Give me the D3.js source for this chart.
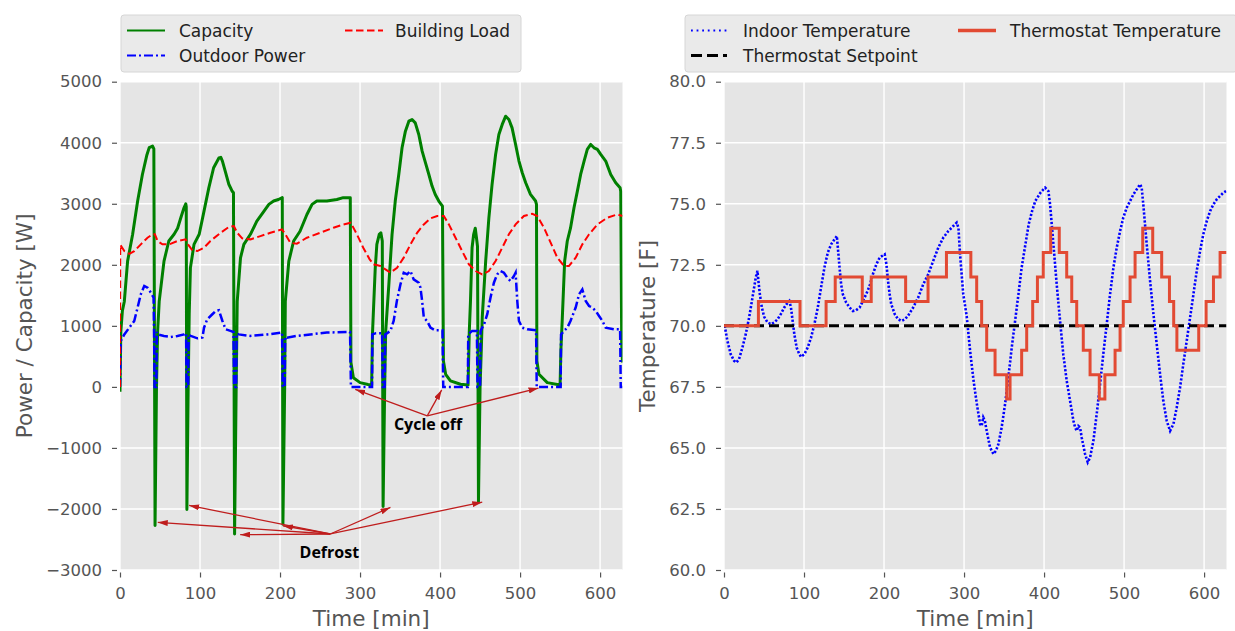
<!DOCTYPE html>
<html>
<head>
<meta charset="utf-8">
<script src="https://cdn.jsdelivr.net/npm/d3@7"></script>
<style>
  body { margin: 0; background: #fff; }
  svg text { font-family: "DejaVu Sans", sans-serif; }
</style>
</head>
<body>
<div id="main"></div>
<script>

/// Data (time in min) ///

// left panel: [time, watts]
const capacity = [[0,-80],[1,900],[3,1250],[5.4,1400],[9.5,2060],[15.8,2500],[22,3040],[28,3480],[33.6,3800],[36.5,3920],[40.7,3945],[42.3,3900],[43.8,-2270],[45.6,0],[47,900],[49,1400],[55,2060],[61,2390],[67.6,2500],[72,2600],[76,2770],[80,2935],[82.2,3000],[82.8,2950],[83.6,-2010],[85.2,0],[86.5,1200],[88,1950],[92.5,2335],[99,2500],[105,2880],[111,3260],[117,3590],[123.6,3750],[126,3760],[128,3700],[132,3510],[136,3320],[140,3210],[141.8,3180],[143.2,-2410],[145.2,0],[146.5,1400],[150.6,2115],[154.8,2335],[163,2500],[171,2715],[180,2880],[186,2990],[192,3045],[198,3070],[202.8,3100],[203.6,-2250],[205.8,0],[206.6,1400],[211,2060],[217,2390],[225,2550],[233.6,2825],[240,2990],[246,3045],[258.5,3045],[271,3070],[279,3100],[287.8,3100],[288.6,400],[291.7,150],[300,70],[310,40],[314.5,30],[315.5,860],[319,1950],[321,2335],[324,2500],[326,2525],[327.8,2390],[328.8,-1960],[330.8,0],[332,900],[336,1680],[340,2500],[344,3045],[348.4,3480],[352.5,3917],[356.7,4190],[361,4353],[365,4380],[369,4326],[373.4,4135],[377.6,3862],[381.8,3670],[386,3480],[390,3290],[394,3153],[398.4,3045],[403,2962],[404.2,425],[407,207],[413,98],[425.5,44],[435,30],[436.5,900],[438,1400],[440,2280],[442,2500],[444,2600],[446,2390],[446.8,2300],[448,-1877],[450,0],[451.5,600],[452.7,1135],[457,2060],[461,2770],[465,3317],[469.4,3808],[473.5,4135],[477.7,4300],[482,4435],[486,4380],[490,4244],[494.4,3972],[498.6,3700],[502.7,3508],[507,3345],[513,3153],[519.4,3045],[520.5,2990],[521,425],[523.6,207],[534,70],[550,30],[551,600],[552.8,1135],[555.7,2060],[559,2390],[563,2600],[567.4,2935],[571.6,3208],[575.7,3480],[580,3700],[584,3890],[588.3,3972],[592.4,3917],[596.6,3890],[600.8,3808],[607,3700],[613.3,3480],[619.5,3345],[625,3262],[625.8,3200],[627,700],[628,400]];

const outdoorPower = [[0,0],[0.8,750],[5.4,860],[11.6,970],[17.8,1080],[22,1300],[26,1517],[30.3,1653],[34.4,1625],[38.6,1544],[42,1462],[42.6,900],[43.2,0],[45.4,0],[46,900],[47,860],[55,835],[63.5,818],[71.8,835],[80,860],[82.6,880],[83.2,0],[85.2,0],[85.8,850],[88.4,835],[96.7,796],[103,810],[105,970],[109,1107],[115.4,1190],[119.5,1244],[123.6,1255],[128,1080],[132,944],[138,917],[141.8,900],[142.6,0],[145.2,0],[145.8,870],[148.5,860],[163,835],[184,860],[202.5,890],[203.4,0],[205.8,0],[206.4,820],[208.7,807],[221,835],[237.8,860],[258.5,890],[287.5,900],[288.6,0],[315,0],[315.4,860],[320,880],[327.5,880],[328.5,0],[330.8,0],[331.5,860],[338,917],[342,1080],[346,1407],[350.5,1680],[354.6,1871],[358.8,1844],[363,1898],[367,1762],[373.4,1707],[375.5,1625],[377.6,1407],[379.7,1135],[383.8,1080],[388,970],[394,927],[403,927],[404,0],[434.7,0],[435.2,860],[440,917],[446,917],[446.8,0],[450,0],[450.6,917],[455,1025],[459,1190],[463,1462],[467.3,1707],[471.4,1844],[475.6,1898],[479.8,1871],[484,1790],[488,1735],[492.3,1816],[494.4,1871],[496.5,1407],[498.6,1080],[502.7,970],[509,944],[520,927],[520.8,0],[550.7,0],[551.2,860],[555,917],[559,970],[563,1080],[569.5,1300],[573.7,1517],[577.8,1598],[582,1407],[586.2,1325],[590.3,1300],[594.5,1244],[598.7,1162],[602.9,1080],[607,970],[617.5,944],[625,944],[625.8,0],[628,0]];

const buildingLoad = [[0,0],[0.3,2330],[5.4,2225],[11.6,2180],[17.8,2225],[26,2335],[34.4,2444],[40.7,2500],[43.6,2500],[47,2390],[53,2335],[61.4,2335],[71.8,2390],[82,2417],[85,2335],[90.5,2237],[96.7,2225],[105,2280],[113,2390],[125.7,2525],[136,2620],[142.3,2635],[146.5,2525],[152.7,2433],[163,2417],[175.5,2470],[188,2525],[202.5,2580],[206.6,2500],[213,2360],[221,2346],[233.6,2444],[250,2525],[266.8,2608],[279,2660],[288.4,2690],[296,2500],[304,2280],[312,2090],[317,2008],[325.4,1980],[331.7,1925],[338,1871],[346.3,1953],[354.6,2117],[363,2335],[371.3,2525],[379.7,2662],[388,2760],[396.4,2800],[404.7,2800],[411,2662],[419.3,2444],[427.6,2225],[436,2008],[444.3,1898],[452.7,1844],[461,1898],[469.4,2062],[477.7,2280],[486,2500],[494.4,2662],[504.8,2800],[515.3,2837],[521.5,2800],[529.9,2608],[538.2,2362],[546.5,2117],[555,1980],[561,1980],[569.5,2117],[577.8,2335],[586.2,2500],[596.6,2662],[609,2771],[621.6,2826],[628,2800]];

// right panel: [time, deg F]
const indoorTemp = [[0,70.0],[1.3,69.93],[4.2,69.39],[8.4,68.84],[12.6,68.57],[15.5,68.5],[18.8,68.64],[23,69.11],[27.2,69.66],[31.4,70.34],[35.6,71.16],[39.7,71.98],[41.8,72.25],[43,71.84],[44.8,71.3],[47.3,70.75],[50.2,70.37],[54.4,70.14],[58.6,70.07],[62.8,70.14],[67,70.27],[71,70.48],[75.3,70.75],[79.5,70.95],[81.6,71.02],[83.7,70.75],[85.8,70.2],[87.9,69.66],[90.8,69.11],[94.1,68.84],[96.2,68.73],[100.4,68.84],[104.6,69.11],[108.8,69.52],[113,70.07],[117.2,70.75],[121.3,71.57],[125.5,72.39],[129.7,73.0],[133.9,73.34],[138,73.54],[141,73.68],[142.3,73.2],[144.4,72.39],[146.4,71.7],[148.5,71.3],[152.7,70.95],[157,70.75],[161,70.61],[165,70.64],[169.5,70.75],[173.6,71.02],[177.8,71.3],[182,71.64],[186,72.11],[190.4,72.52],[194.6,72.8],[200.8,72.93],[203,72.52],[205,71.84],[207,71.3],[209,70.89],[213.4,70.48],[217.6,70.27],[221.8,70.2],[226,70.27],[230,70.41],[236.4,70.75],[242.7,71.16],[249,71.7],[255.2,72.11],[261.5,72.66],[267.8,73.2],[274,73.61],[280.3,73.88],[286.6,74.09],[290.8,74.23],[293,74.02],[295,72.93],[299,71.3],[303.3,70.4],[307.5,69.0],[311.7,67.8],[316,66.8],[320,65.98],[322,65.9],[324,66.25],[326,66.11],[328.3,65.7],[332.5,65.02],[336.7,64.75],[340,64.89],[343,65.16],[347,65.84],[351.3,66.8],[355.4,67.89],[359.6,69.11],[363.8,70.2],[368,71.3],[372,72.39],[376.7,73.34],[380.8,74.16],[385,74.7],[389,75.11],[395.4,75.45],[401.3,75.66],[405.4,75.52],[407.5,74.98],[411.7,73.34],[415.8,71.7],[420,70.2],[424,68.84],[428.3,67.75],[432.5,66.93],[436.7,66.11],[438.75,65.84],[440.8,65.7],[442.9,65.9],[445,65.84],[447,65.43],[451.25,64.75],[454.6,64.41],[457.5,64.61],[461.7,65.3],[465.8,66.39],[470,67.61],[474,68.84],[478.3,70.07],[482.5,71.3],[486.7,72.39],[490.8,73.2],[495,73.88],[499,74.43],[503.3,74.84],[507.5,75.11],[511.7,75.39],[515.8,75.59],[520,75.8],[522,75.66],[524,74.98],[528.3,73.34],[532.5,71.84],[536.7,70.48],[540.8,69.25],[545,68.02],[549,66.93],[553.3,66.11],[557.5,65.7],[561.7,65.98],[565.8,66.66],[570,67.48],[574,68.43],[578.3,69.39],[582.5,70.34],[586.7,71.3],[590.8,72.25],[595,73.07],[599,73.75],[603.3,74.29],[607.5,74.7],[611.7,74.98],[615.8,75.18],[620,75.32],[624,75.45],[627.5,75.52]];

// thermostat reading, held until next entry
const thermostatTemp = [[0,70],[43,71],[95,70],[127.6,71],[139,72],[172.8,71],[184,72],[227,71],[255,72],[278,73],[308.5,72],[315.8,71],[322,70],[328.3,69],[338.75,68],[353.3,67],[357.5,68],[372,69],[378.3,70],[385.8,71],[391.7,72],[399,73],[408.3,74],[419,73],[428.3,72],[434.6,71],[440.8,70],[449,69],[457.5,68],[469,67],[476,68],[488.75,69],[495,70],[499,71],[507.5,72],[513.75,73],[523.3,74],[535.8,73],[547,72],[556.7,71],[562,70],[566,69],[593.3,70],[602.5,71],[611.7,72],[620,73],[628,73]];

const setpoint = [[0,70],[628,70]];

// ticks
const timeTicks = [0, 100, 200, 300, 400, 500, 600];
const powerTicks = [-3000, -2000, -1000, 0, 1000, 2000, 3000, 4000, 5000];
const tempTicks = [60, 62.5, 65, 67.5, 70, 72.5, 75, 77.5, 80];

// legend labels
const leftLabels = ['Capacity', 'Outdoor Power', 'Building Load'];
const rightLabels = ['Indoor Temperature', 'Thermostat Setpoint', 'Thermostat Temperature'];

// annotations (data coords of left panel)
const cycleOffFrom = [384, -475];
const cycleOffTo = [[294, -40], [402, -50], [523, -20]];
const cycleOffText = [385, -712];
const defrostFrom = [262.8, -2410];
const defrostTo = [[47.2, -2220], [86.4, -1942], [150.2, -2422], [203.6, -2275], [338, -1975], [452.7, -1888]];
const defrostText = [261.6, -2807];


/// D3 ///

const w = 1235;
const h = 631;
const plotTop = 81.7;
const plotBottom = 570;
const tickColor = '#555555';
const arrowColor = '#bf1d1d';

const svg = d3.select('#main')
            .append('svg')
            .attr('width', w)
            .attr('height', h);

const defs = svg.append('defs');

// scales
const xL = d3.scaleLinear().domain([0, 628]).range([120, 622.5]);
const yL = d3.scaleLinear().domain([-3000, 5000]).range([plotBottom, plotTop]);
const xR = d3.scaleLinear().domain([0, 628]).range([724, 1226.5]);
const yR = d3.scaleLinear().domain([60, 80]).range([plotBottom, plotTop]);

// background, grid, axes for one panel
function drawPanel(x, y, yTicks, yFmt, clipId, yTitle, yTitleX) {
    const x0 = x.range()[0], x1 = x.range()[1];

    svg.append('rect')
        .attr('x', x0).attr('y', plotTop)
        .attr('width', x1 - x0).attr('height', plotBottom - plotTop)
        .attr('fill', '#e5e5e5');

    defs.append('clipPath').attr('id', clipId)
        .append('rect')
        .attr('x', x0).attr('y', plotTop)
        .attr('width', x1 - x0).attr('height', plotBottom - plotTop);

    const grid = svg.append('g').attr('stroke', '#ffffff').attr('stroke-width', 1.4);
    grid.selectAll('.vx')
        .data(timeTicks)
        .enter().append('line')
        .attr('x1', d => x(d)).attr('x2', d => x(d))
        .attr('y1', plotTop).attr('y2', plotBottom);
    grid.selectAll('.hy')
        .data(yTicks)
        .enter().append('line')
        .attr('x1', x0).attr('x2', x1)
        .attr('y1', d => y(d)).attr('y2', d => y(d));

    const xAxis = d3.axisBottom(x).tickValues(timeTicks).tickSize(5).tickPadding(9.5);
    const gx = svg.append('g')
        .attr('transform', `translate(0,${plotBottom + 2.5})`)
        .call(xAxis);

    const yAxis = d3.axisLeft(y).tickValues(yTicks).tickFormat(yFmt).tickSize(5).tickPadding(10);
    const gy = svg.append('g')
        .attr('transform', `translate(${x0 - 3},0)`)
        .call(yAxis);

    [gx, gy].forEach(g => {
        g.select('.domain').remove();
        g.selectAll('line').attr('stroke', tickColor).attr('stroke-width', 1.2);
        g.selectAll('text')
            .attr('fill', tickColor)
            .style('font-size', '16.5px')
            .style('font-family', '"DejaVu Sans", sans-serif');
    });

    // axis titles
    svg.append('text')
        .attr('x', (x0 + x1) / 2).attr('y', 626)
        .attr('text-anchor', 'middle')
        .attr('fill', tickColor)
        .style('font-size', '21.5px')
        .text('Time [min]');

    svg.append('text')
        .attr('transform', `translate(${yTitleX},${(plotTop + plotBottom) / 2}) rotate(-90)`)
        .attr('text-anchor', 'middle')
        .attr('fill', tickColor)
        .style('font-size', '21.5px')
        .text(yTitle);
}

drawPanel(xL, yL, powerTicks, d3.format('d'), 'clipL', 'Power / Capacity [W]', 32);
drawPanel(xR, yR, tempTicks, d3.format('.1f'), 'clipR', 'Temperature [F]', 655);

// left panel lines
const lineL = d3.line().x(d => xL(d[0])).y(d => yL(d[1]));
const gL = svg.append('g').attr('clip-path', 'url(#clipL)');

gL.append('path')
    .datum(capacity)
    .attr('d', lineL)
    .attr('fill', 'none')
    .attr('stroke', '#008000')
    .attr('stroke-width', 3)
    .attr('stroke-linejoin', 'round');

gL.append('path')
    .datum(outdoorPower)
    .attr('d', lineL)
    .attr('fill', 'none')
    .attr('stroke', '#0000ff')
    .attr('stroke-width', 2.5)
    .attr('stroke-dasharray', '9,3,2,3');

gL.append('path')
    .datum(buildingLoad)
    .attr('d', lineL)
    .attr('fill', 'none')
    .attr('stroke', '#ff0000')
    .attr('stroke-width', 2)
    .attr('stroke-dasharray', '7.5,3.5');

// right panel lines
const lineR = d3.line().x(d => xR(d[0])).y(d => yR(d[1]));
const gR = svg.append('g').attr('clip-path', 'url(#clipR)');

gR.append('path')
    .datum(indoorTemp)
    .attr('d', lineR)
    .attr('fill', 'none')
    .attr('stroke', '#0000ff')
    .attr('stroke-width', 2.6)
    .attr('stroke-dasharray', '2.2,1.8');

gR.append('path')
    .datum(setpoint)
    .attr('d', lineR)
    .attr('fill', 'none')
    .attr('stroke', '#000000')
    .attr('stroke-width', 3)
    .attr('stroke-dasharray', '10,5');

gR.append('path')
    .datum(thermostatTemp)
    .attr('d', lineR.curve(d3.curveStepAfter))
    .attr('fill', 'none')
    .attr('stroke', '#e24a33')
    .attr('stroke-width', 3);

// annotation arrows
defs.append('marker')
    .attr('id', 'head')
    .attr('viewBox', '0 0 10 10')
    .attr('refX', 10).attr('refY', 5)
    .attr('markerWidth', 10).attr('markerHeight', 6)
    .attr('markerUnits', 'userSpaceOnUse')
    .attr('preserveAspectRatio', 'none')
    .attr('orient', 'auto')
    .append('path')
    .attr('d', 'M0,0L10,5L0,10z')
    .attr('fill', arrowColor);

function annotate(from, targets, pos, label) {
    svg.append('g')
        .selectAll('line')
        .data(targets)
        .enter().append('line')
        .attr('x1', xL(from[0])).attr('y1', yL(from[1]))
        .attr('x2', d => xL(d[0])).attr('y2', d => yL(d[1]))
        .attr('stroke', arrowColor)
        .attr('stroke-width', 1.3)
        .attr('marker-end', 'url(#head)');

    svg.append('text')
        .attr('x', xL(pos[0])).attr('y', yL(pos[1]))
        .attr('text-anchor', 'middle')
        .attr('fill', '#000')
        .style('font-family', '"Open Sans", sans-serif')
        .style('font-weight', 700)
        .style('font-size', '16px')
        .text(label);
}

annotate(cycleOffFrom, cycleOffTo, cycleOffText, 'Cycle off');
annotate(defrostFrom, defrostTo, defrostText, 'Defrost');

// legends
function drawLegend(box, items) {
    const g = svg.append('g');
    g.append('rect')
        .attr('x', box[0]).attr('y', box[1])
        .attr('width', box[2]).attr('height', box[3])
        .attr('rx', 3)
        .attr('fill', '#eaeaea')
        .attr('stroke', '#d6d6d6')
        .attr('stroke-width', 1);

    items.forEach(it => {
        g.append('line')
            .attr('x1', it.hx[0]).attr('x2', it.hx[1])
            .attr('y1', it.y).attr('y2', it.y)
            .attr('stroke', it.color)
            .attr('stroke-width', it.sw)
            .attr('stroke-dasharray', it.dash);
        g.append('text')
            .attr('x', it.tx).attr('y', it.y)
            .attr('dy', '0.36em')
            .attr('fill', '#222')
            .style('font-size', '17px')
            .text(it.label);
    });
}

drawLegend([121, 15, 400, 57], [
    { label: leftLabels[0], color: '#008000', sw: 2.2, dash: null, hx: [127, 165], tx: 179, y: 30.5 },
    { label: leftLabels[1], color: '#0000ff', sw: 2.2, dash: '9,3,2,3', hx: [127, 165], tx: 179, y: 55.5 },
    { label: leftLabels[2], color: '#ff0000', sw: 2, dash: '7.5,3.5', hx: [345, 383], tx: 395, y: 30.5 }
]);

drawLegend([685, 15, 552, 57], [
    { label: rightLabels[0], color: '#0000ff', sw: 2, dash: '1.8,3.8', hx: [691, 727], tx: 743, y: 30.5 },
    { label: rightLabels[1], color: '#000000', sw: 3, dash: '11,5', hx: [691, 727], tx: 743, y: 55.5 },
    { label: rightLabels[2], color: '#e24a33', sw: 3.5, dash: null, hx: [958, 996], tx: 1010, y: 30.5 }
]);

</script>
</body>
</html>
